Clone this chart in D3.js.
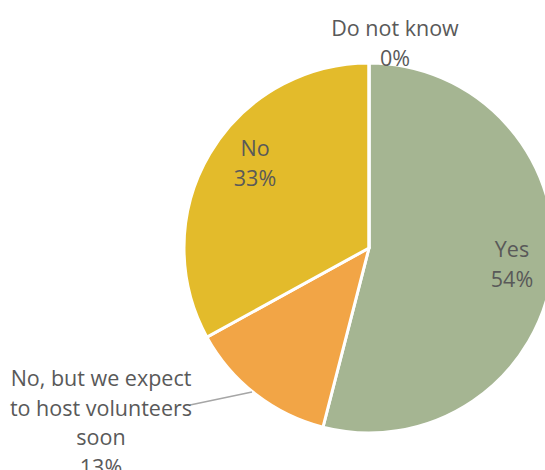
<!DOCTYPE html>
<html><head><meta charset="utf-8">
<script src="https://cdn.jsdelivr.net/npm/d3@7"></script>
<style>body{margin:0;background:#fff}svg{display:block}</style>
</head><body>
<script>
const categories = ["Yes", "No, but we expect to host volunteers soon", "No", "Do not know"];
const values = [54, 13, 33, 0];
const percentLabels = ["54%", "13%", "33%", "0%"];
const colors = ["#A5B592", "#F2A546", "#E3BB2B", "#5B9BD5"];

const W = 545, H = 470;
const svg = d3.select("body").append("svg").attr("width", W).attr("height", H);
const cx = 369, cy = 248, R = 185;
const g = svg.append("g").attr("transform", `translate(${cx},${cy})`);

const pie = d3.pie().sort(null).value(d => d)(values);
const arc = d3.arc().innerRadius(0).outerRadius(R);

g.selectAll("path").data(pie).join("path")
  .attr("d", arc)
  .attr("fill", (d, i) => colors[i])
  .attr("stroke", "#fff").attr("stroke-width", 3).attr("stroke-linejoin", "round");

const font = "Open Sans, sans-serif";
const fs = 21.5;
const lh = 29.5;
const textColor = "#595959";

function labelLines(i) {
  if (i === 1) return ["No, but we expect", "to host volunteers", "soon", percentLabels[i]];
  return [categories[i], percentLabels[i]];
}
// label anchor offsets (center of first line baseline) relative to pie center
const labelOffsets = [[143, 9], [-268, 138], [-114, -92], [26, -212]];

// leader line for the small slice label
g.append("line")
  .attr("x1", -117).attr("y1", 144)
  .attr("x2", -179).attr("y2", 157)
  .attr("stroke", "#A6A6A6").attr("stroke-width", 1.5);

pie.forEach((d, i) => {
  const [x, y] = labelOffsets[i];
  const t = g.append("text").attr("text-anchor", "middle")
    .attr("font-family", font).attr("font-size", fs).attr("fill", textColor);
  labelLines(i).forEach((s, k) => {
    t.append("tspan").attr("x", x).attr("y", y + k * lh).text(s);
  });
});
</script>
</body></html>
